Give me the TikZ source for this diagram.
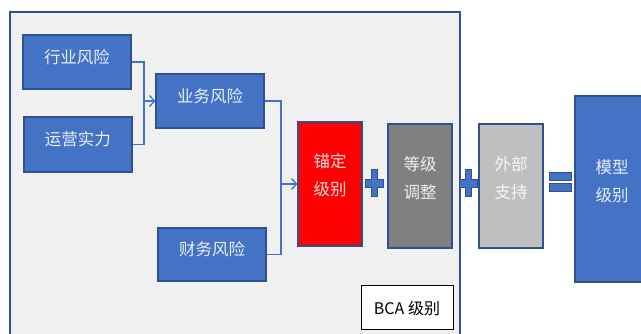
\documentclass[tikz,border=0pt]{standalone}
\usepackage{fontspec}
\setmainfont{Noto Sans CJK SC}
\usetikzlibrary{arrows.meta,calc}
\definecolor{oblue}{HTML}{4472C4}
\definecolor{dblue}{HTML}{2F528F}
\definecolor{bgray}{HTML}{F0F0F0}
\definecolor{lred}{HTML}{FF0000}
\definecolor{mgray}{HTML}{808080}
\definecolor{lgray}{HTML}{BFBFBF}
\tikzset{
  box/.style={draw=dblue, line width=1.2pt, fill=oblue, minimum width=108pt, minimum height=54pt, inner sep=0pt},
  tall/.style={box, minimum width=64pt, minimum height=124pt},
  lbl/.style={text=white, text opacity=0.88, font=\fontsize{16.5}{28}\selectfont, align=center, inner sep=0pt},
  conn/.style={draw=oblue, line width=1.3pt},
  arr/.style={conn, -{Straight Barb[length=5pt,width=11pt,line width=1.3pt]}},
  sym/.style={draw=dblue, line width=1pt, fill=oblue}
}
\begin{document}
\begin{tikzpicture}[x=1pt,y=-1pt]
\useasboundingbox (0,0) rectangle (641,334);
\fill[white] (0,0) rectangle (641,334);
\begin{scope}
\clip (0,0) rectangle (641,334);
% outer frame
\draw[draw=dblue, line width=1.8pt, fill=bgray] (10,12) rectangle (460,345);
\node[box] (hy) at (77,62) {};
\node[box, minimum height=55pt] (yy) at (78,144.5) {};
\node[box] (yw) at (210,101) {};
\node[box, minimum height=53pt] (cw) at (212,254.5) {};
\node[tall, fill=lred] (md) at (330,184) {};
\node[tall, fill=mgray] (dj) at (420,186) {};
\node[tall, fill=lgray] (wb) at (511,186) {};
\node[box, minimum width=74pt, minimum height=186pt] (mx) at (612,189) {};
\node[lbl] (hyt) at ($(hy.center)+(0,-5)$) {行业风险};
\node[lbl] (yyt) at ($(yy.center)+(0,-5)$) {运营实力};
\node[lbl] (ywt) at ($(yw.center)+(0,-5)$) {业务风险};
\node[lbl] (cwt) at ($(cw.center)+(0,-5)$) {财务风险};
\node[lbl] (mdt) at ($(md.center)+(0,-9)$) {锚定\\级别};
\node[lbl] (djt) at ($(dj.center)+(0,-8)$) {等级\\调整};
\node[lbl] (wbt) at ($(wb.center)+(0,-8)$) {外部\\支持};
\node[lbl] (mxt) at ($(mx.center)+(0,-8)$) {模型\\级别};
\node[draw=black, line width=1pt, fill=white, minimum width=92pt, minimum height=44pt, inner sep=0pt,
  font=\fontsize{16}{20}\selectfont] (bca) at (407,308) {BCA 级别};
% connectors
\coordinate (j1) at (144,101);
\coordinate (j2) at (281,184);
\draw[conn] (hy.east) -| (j1);
\draw[conn] (yy.east) -| (j1);
\draw[arr] (j1) -- (yw.west);
\draw[conn] (yw.east) -| (j2);
\draw[conn] (cw.east) -| (j2);
\draw[arr] (j2) -- (md.west);
% plus signs
\foreach \cx in {374, 468} {
  \draw[sym] (\cx-3,170) -- (\cx+3,170) -- (\cx+3,180) -- (\cx+9,180) -- (\cx+9,188) -- (\cx+3,188)
    -- (\cx+3,197) -- (\cx-3,197) -- (\cx-3,188) -- (\cx-9,188) -- (\cx-9,180) -- (\cx-3,180) -- cycle;
}
% equals
\draw[sym] (549,173) rectangle (571,181);
\draw[sym] (549,184) rectangle (571,192);
\end{scope}
\end{tikzpicture}
\end{document}
